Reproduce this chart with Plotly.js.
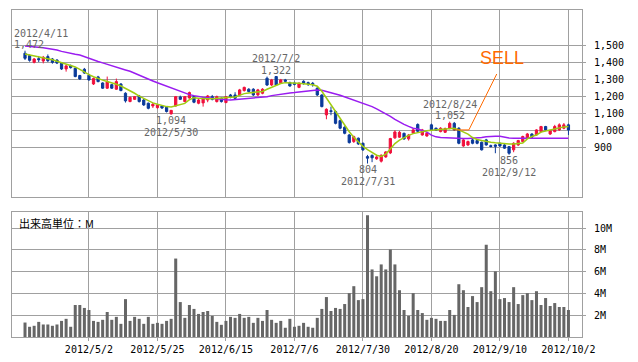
<!DOCTYPE html>
<html>
<head>
<meta charset="utf-8">
<script src="https://cdn.plot.ly/plotly-3.0.1.min.js"></script>
<style>
html,body{margin:0;padding:0;background:#fff;}
#chart{width:638px;height:362px;}
</style>
</head>
<body>
<div id="chart"></div>
<script>
// Trading days (category axis)
const dates = [
"2012/4/11","2012/4/12","2012/4/13","2012/4/16","2012/4/17","2012/4/18","2012/4/19","2012/4/20","2012/4/23","2012/4/24",
"2012/4/25","2012/4/26","2012/4/27","2012/5/1","2012/5/2","2012/5/7","2012/5/8","2012/5/9","2012/5/10","2012/5/11",
"2012/5/14","2012/5/15","2012/5/16","2012/5/17","2012/5/18","2012/5/21","2012/5/22","2012/5/23","2012/5/24","2012/5/25",
"2012/5/28","2012/5/29","2012/5/30","2012/5/31","2012/6/1","2012/6/4","2012/6/5","2012/6/6","2012/6/7","2012/6/8",
"2012/6/11","2012/6/12","2012/6/13","2012/6/14","2012/6/15","2012/6/18","2012/6/19","2012/6/20","2012/6/21","2012/6/22",
"2012/6/25","2012/6/26","2012/6/27","2012/6/28","2012/6/29","2012/7/2","2012/7/3","2012/7/4","2012/7/5","2012/7/6",
"2012/7/9","2012/7/10","2012/7/11","2012/7/12","2012/7/13","2012/7/17","2012/7/18","2012/7/19","2012/7/20","2012/7/23",
"2012/7/24","2012/7/25","2012/7/26","2012/7/27","2012/7/30","2012/7/31","2012/8/1","2012/8/2","2012/8/3","2012/8/6",
"2012/8/7","2012/8/8","2012/8/9","2012/8/10","2012/8/13","2012/8/14","2012/8/15","2012/8/16","2012/8/17","2012/8/20",
"2012/8/21","2012/8/22","2012/8/23","2012/8/24","2012/8/27","2012/8/28","2012/8/29","2012/8/30","2012/8/31","2012/9/3",
"2012/9/4","2012/9/5","2012/9/6","2012/9/7","2012/9/10","2012/9/11","2012/9/12","2012/9/13","2012/9/14","2012/9/18",
"2012/9/19","2012/9/20","2012/9/21","2012/9/24","2012/9/25","2012/9/26","2012/9/27","2012/9/28","2012/10/1","2012/10/2"];

const openP = [1457,1443,1403,1425,1411,1437,1423,1417,1399,1364,1384,1368,1325,1362,1327,1275,1317,1281,1250,1271,
1244,1275,1220,1171,1184,1204,1180,1161,1145,1135,1145,1137,1098,1145,1198,1171,1192,1200,1161,1163,
1180,1200,1171,1190,1165,1210,1210,1210,1236,1244,1244,1210,1220,1309,1269,1319,1279,1299,1283,1281,
1255,1291,1283,1279,1250,1210,1092,1117,1112,1058,1019,973,934,954,924,845,852,832,818,843,
867,956,960,983,950,985,1035,973,967,1033,1013,993,989,1013,1042,1013,908,914,944,940,
930,944,910,914,924,914,904,885,914,934,954,979,973,993,1023,979,993,1003,1013,1033];
const highP = [1472,1450,1429,1441,1441,1450,1429,1421,1403,1388,1390,1372,1329,1370,1335,1313,1323,1285,1319,1275,
1307,1280,1226,1200,1204,1210,1186,1165,1163,1155,1149,1141,1121,1204,1206,1204,1230,1206,1186,1196,
1210,1210,1206,1196,1204,1216,1226,1246,1259,1250,1250,1246,1250,1319,1305,1322,1305,1305,1289,1289,
1285,1297,1289,1287,1256,1214,1131,1141,1119,1064,1025,979,969,958,928,855,858,848,858,877,
956,1001,997,987,979,1009,1042,1009,989,1040,1017,1019,1017,1052,1050,1019,950,940,956,946,
934,950,916,918,928,920,908,930,944,969,985,983,1007,1027,1027,1003,1033,1042,1044,1040];
const lowP = [1417,1407,1397,1405,1397,1405,1395,1393,1358,1348,1366,1315,1299,1335,1295,1269,1285,1246,1246,1246,
1240,1232,1165,1167,1180,1165,1145,1125,1133,1129,1127,1106,1094,1141,1180,1167,1188,1161,1155,1141,
1167,1178,1165,1165,1161,1190,1186,1204,1230,1226,1204,1204,1214,1263,1263,1263,1275,1287,1259,1267,
1250,1271,1263,1259,1204,1137,1066,1090,1036,1007,977,922,926,914,879,804,812,826,810,838,
860,950,956,944,940,979,989,969,963,997,997,989,985,1007,997,918,903,908,918,918,
881,910,899,865,903,891,856,871,908,930,950,956,969,989,997,973,989,997,1007,973];
const closeP = [1427,1415,1423,1419,1433,1413,1403,1399,1364,1382,1372,1319,1305,1340,1299,1307,1289,1250,1289,1250,
1289,1236,1175,1196,1200,1171,1151,1131,1155,1151,1133,1112,1119,1200,1184,1200,1224,1167,1180,1190,
1204,1184,1200,1171,1200,1196,1190,1240,1255,1230,1210,1240,1244,1269,1299,1269,1299,1291,1263,1273,
1279,1277,1275,1271,1210,1141,1125,1112,1042,1013,983,928,963,920,885,836,838,843,853,873,
952,991,989,950,973,1003,995,1003,983,1003,1001,1013,1011,1042,1003,924,944,934,924,924,
885,914,905,906,908,895,865,924,940,964,979,960,1003,1023,1003,999,1023,1033,1033,1003];

// Short moving average (green) and long moving average (purple), read per bar
const maShort = [1452,1447,1440,1436,1432,1426,1418,1410,1402,1393,1384,1376,1362,1345,1330,1318,1306,1298,1290,1283,
1273,1263,1250,1236,1220,1203,1190,1175,1163,1155,1147,1141,1139,1145,1150,1160,1182,1194,1190,1187,
1188,1188,1189,1192,1195,1196,1198,1208,1218,1222,1224,1227,1231,1244,1256,1268,1278,1283,1283,1282,
1280,1277,1274,1270,1262,1232,1192,1152,1112,1070,1028,992,960,932,906,886,868,853,846,860,
890,922,943,958,971,981,988,994,998,1001,1003,1005,1007,1012,1013,1003,990,978,958,946,
940,934,930,927,924,921,920,920,922,925,950,964,973,990,996,1003,1010,1016,1021,1023];
const maLong = [1500,1498,1496,1493,1489,1485,1481,1476,1468,1461,1455,1451,1446,1436,1425,1415,1408,1400,1391,1381,
1372,1365,1358,1350,1338,1325,1315,1305,1293,1282,1272,1260,1249,1238,1228,1220,1212,1206,1200,1196,
1193,1189,1186,1183,1181,1180,1182,1185,1188,1190,1192,1195,1197,1200,1206,1211,1216,1219,1222,1224,
1228,1232,1236,1238,1240,1238,1232,1224,1216,1208,1199,1190,1181,1171,1162,1152,1141,1128,1114,1100,
1083,1065,1048,1036,1024,1013,1008,1000,990,972,962,958,956,955,954,952,952,952,953,955,
958,963,966,966,966,960,955,954,954,954,954,954,954,954,954,954,954,954,954,954];

// Volume (millions)
const volume = [1.33,0.94,1.03,1.39,1.15,1.15,1.03,1.15,1.48,1.67,0.94,2.94,2.94,2.67,2.48,1.48,1.39,1.58,2.30,1.58,
1.85,1.21,3.48,1.48,1.85,1.67,1.21,1.85,1.21,1.30,1.21,1.48,1.67,7.21,3.21,1.76,2.94,2.58,2.12,2.30,
2.39,1.94,1.39,1.12,1.48,1.85,1.76,2.12,1.76,1.85,1.30,1.76,1.48,2.48,1.58,1.30,1.48,0.85,1.67,0.94,
1.03,1.30,0.94,0.85,1.76,2.58,3.67,2.39,2.67,2.58,3.03,4.03,4.67,3.39,3.48,11.2,6.21,5.58,6.67,6.21,
8.03,6.67,4.30,2.48,1.94,4.03,2.48,2.20,1.58,1.76,1.67,1.48,1.48,2.48,2.03,4.85,4.30,2.76,3.76,3.21,
4.58,8.48,4.21,6.03,3.48,3.58,3.21,4.58,3.03,3.85,4.03,3.39,4.21,2.94,3.58,2.85,3.12,2.76,2.76,2.48];

// Axis ticks
const xTicks = ["2012/5/2","2012/5/25","2012/6/15","2012/7/6","2012/7/30","2012/8/20","2012/9/10","2012/10/2"];
const priceTicks = [900,1000,1100,1200,1300,1400,1500];
const priceTickText = ["900","1,000","1,100","1,200","1,300","1,400","1,500"];
const volTicks = [2,4,6,8,10];
const volTickText = ["2M","4M","6M","8M","10M"];

// Price markers
const markDates = ["2012/4/11","2012/7/2","2012/5/30","2012/7/31","2012/8/24","2012/9/12"];
const markValues = [1472,1322,1094,804,1052,856];
const markIsHigh = [true,true,false,false,true,false];

const GRID = '#a0a0a0';
const MONO = 'DejaVu Sans Mono, monospace';

const traces = [
  {
    type:'candlestick', x:dates, open:openP, high:highP, low:lowP, close:closeP,
    xaxis:'x', yaxis:'y',
    increasing:{line:{color:'#f0103c', width:1}, fillcolor:'#f0103c'},
    decreasing:{line:{color:'#0a3a9a', width:1}, fillcolor:'#0a3a9a'},
    whiskerwidth:0, hoverinfo:'skip'
  },
  {type:'scatter', mode:'lines', x:dates, y:maLong, xaxis:'x', yaxis:'y',
   line:{color:'#9a1cf0', width:1.5}, hoverinfo:'skip'},
  {type:'scatter', mode:'lines', x:dates, y:maShort, xaxis:'x', yaxis:'y',
   line:{color:'#a0cc10', width:1.5}, hoverinfo:'skip'},
  {type:'bar', x:dates, y:volume, xaxis:'x2', yaxis:'y2',
   marker:{color:'#666666', line:{width:0}}, hoverinfo:'skip'}
];

const annotations = [];
for (let k=0;k<markDates.length;k++){
  const d = markDates[k];
  const valTxt = markValues[k].toLocaleString('en-US');
  const isFirst = (k===0);
  const xpos = isFirst ? 0 : d;
  const xref = isFirst ? 'paper' : 'x';
  const xanc = isFirst ? 'left' : 'center';
  const sgn = markIsHigh[k] ? 1 : -1;
  const first = markIsHigh[k] ? d : valTxt;   // text farther from the candle (high: date above value)
  annotations.push({x:xpos, xref:xref, xanchor:xanc, y:markValues[k], yref:'y', yanchor:'middle',
    text:markIsHigh[k] ? d : d, showarrow:false, yshift:sgn*17.5,
    font:{family:MONO,size:10,color:'#666'}});
  annotations.push({x:xpos, xref:xref, xanchor:xanc, y:markValues[k], yref:'y', yanchor:'middle',
    text:valTxt, showarrow:false, yshift:sgn*6,
    font:{family:MONO,size:10,color:'#666'}});
}
annotations.push({x:104.4, xref:'x', y:1427, yref:'y', text:'SELL', showarrow:false,
  font:{family:'Liberation Sans, Arial, sans-serif', size:18, color:'#ff6a00'}});
annotations.push({x:0.008, xref:'paper', xanchor:'left', y:10.5, yref:'y2', text:'出来高単位：M', showarrow:false,
  font:{family:'Noto Sans CJK JP, sans-serif', size:11, color:'#000'}});

const layout = {
  width:638, height:362,
  margin:{l:12, r:56, t:10, b:25},
  paper_bgcolor:'#fff', plot_bgcolor:'#fff',
  showlegend:false, hovermode:false, bargap:0.34, boxgap:0.3,
  xaxis:{type:'category', categoryorder:'array', categoryarray:dates, anchor:'y', domain:[0,1],
    range:[-2.85,121.97], rangeslider:{visible:false}, tickvals:xTicks, showticklabels:false,
    showgrid:true, gridcolor:GRID, gridwidth:1, showline:true, mirror:true, linecolor:GRID, linewidth:1,
    ticks:'', zeroline:false},
  xaxis2:{type:'category', matches:'x', anchor:'y2', domain:[0,1], tickvals:xTicks, ticktext:xTicks,
    showticklabels:true, showgrid:true, gridcolor:GRID, showline:true, mirror:true, linecolor:GRID,
    ticks:'outside', ticklen:3, tickcolor:GRID, tickfont:{family:MONO, size:10, color:'#000'}},
  yaxis:{domain:[0.428,1], range:[605.6,1713], side:'right', tickvals:priceTicks, ticktext:priceTickText,
    showgrid:true, gridcolor:GRID, showline:true, mirror:true, linecolor:GRID, zeroline:false,
    ticks:'outside', ticklen:3, tickcolor:GRID, ticklabelstandoff:6,
    tickfont:{family:MONO, size:10, color:'#000'}},
  yaxis2:{domain:[0,0.381], range:[0,11.45], side:'right', tickvals:volTicks, ticktext:volTickText,
    showgrid:true, gridcolor:GRID, showline:true, mirror:true, linecolor:GRID, zeroline:false,
    ticks:'outside', ticklen:3, tickcolor:GRID, ticklabelstandoff:6,
    tickfont:{family:MONO, size:10, color:'#000'}},
  annotations:annotations,
  shapes:[
    {type:'path', xref:'x', yref:'y', path:'M 93.7,1003 L 97.2,1003 L 103.3,1334',
     line:{color:'#ff6a00', width:1}}
  ]
};

Plotly.newPlot('chart', traces, layout, {staticPlot:true, displayModeBar:false});
</script>
</body>
</html>
